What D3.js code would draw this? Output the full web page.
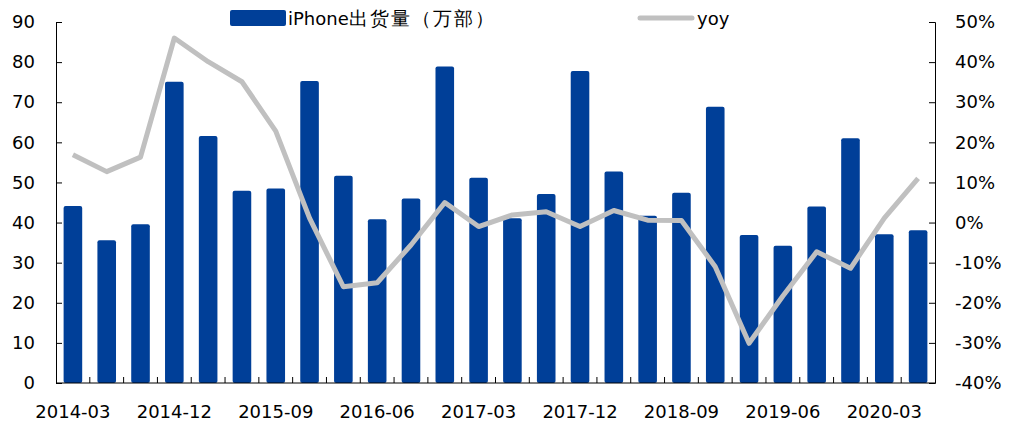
<!DOCTYPE html>
<html>
<head>
<meta charset="utf-8">
<script src="https://cdn.jsdelivr.net/npm/d3@7"></script>
<style>
  body { margin: 0; background: #fff; }
  text { font-family: "DejaVu Sans", Verdana, sans-serif; fill: #000; }
</style>
</head>
<body>
<div id="chart"></div>
<script>
var quarters = ["2014-03","2014-06","2014-09","2014-12","2015-03","2015-06","2015-09","2015-12",
  "2016-03","2016-06","2016-09","2016-12","2017-03","2017-06","2017-09","2017-12",
  "2018-03","2018-06","2018-09","2018-12","2019-03","2019-06","2019-09","2019-12",
  "2020-03","2020-06"];
var shipments = [44.1, 35.6, 39.6, 75.1, 61.6, 47.9, 48.5, 75.3, 51.7, 40.8, 46.0, 78.9, 51.2,
  41.1, 47.1, 77.8, 52.7, 41.7, 47.4, 68.9, 36.9, 34.2, 44.0, 61.0, 37.1, 38.1];
var yoy = [16.9, 12.7, 16.3, 46.0, 40.1, 35.1, 22.8, 1.1, -16.0, -15.0, -5.6, 5.0, -1.0,
  1.9, 2.7, -1.0, 3.0, 0.6, 0.5, -11.0, -30.1, -18.3, -7.3, -11.4, 1.1, 11.0];
var leftTicks = [0, 10, 20, 30, 40, 50, 60, 70, 80, 90];
var rightTicks = [-40, -30, -20, -10, 0, 10, 20, 30, 40, 50];
var xLabels = ["2014-03","2014-12","2015-09","2016-06","2017-03","2017-12","2018-09","2019-06","2020-03"];

var width = 1025, height = 423;
var margin = {top: 22, left: 56, right: 90, bottom: 40};
var plotW = width - margin.left - margin.right,
    plotH = height - margin.top - margin.bottom;

var svg = d3.select("#chart").append("svg")
  .attr("width", width)
  .attr("height", height);

var g = svg.append("g")
  .attr("transform", "translate(" + margin.left + "," + margin.top + ")");

var x = d3.scaleBand().domain(quarters).range([0, plotW]).paddingInner(0.45).paddingOuter(0.225);
var y = d3.scaleLinear().domain([0, 90]).range([plotH, 0]);
var y2 = d3.scaleLinear().domain([-40, 50]).range([plotH, 0]);

// bars
g.selectAll(".bar").data(quarters).enter().append("rect")
  .attr("class", "bar")
  .attr("x", function(d) { return x(d); })
  .attr("y", function(d, i) { return y(shipments[i]); })
  .attr("width", x.bandwidth())
  .attr("height", function(d, i) { return plotH - y(shipments[i]); })
  .attr("rx", 2)
  .attr("fill", "#003f98");

// yoy line
var line = d3.line()
  .x(function(d, i) { return x(quarters[i]) + x.bandwidth() / 2; })
  .y(function(d) { return y2(d); });

g.append("path")
  .datum(yoy)
  .attr("d", line)
  .attr("fill", "none")
  .attr("stroke", "#c0c0c0")
  .attr("stroke-width", 5)
  .attr("stroke-linejoin", "round");

// left axis
var leftAxis = g.append("g")
  .call(d3.axisLeft(y).tickValues(leftTicks).tickSize(-6).tickPadding(21));
leftAxis.selectAll("text").style("font-size", "18px");

// right axis
var rightAxis = g.append("g")
  .attr("transform", "translate(" + plotW + ",0)")
  .call(d3.axisRight(y2).tickValues(rightTicks).tickSize(-6).tickPadding(20)
    .tickFormat(function(d) { return d + "%"; }));
rightAxis.selectAll("text").style("font-size", "18px");

// bottom axis: ticks between categories
var step = x.step();
var bottom = g.append("g").attr("transform", "translate(0," + plotH + ")");
bottom.append("line")
  .attr("x1", 0).attr("x2", plotW)
  .attr("stroke", "#000");
bottom.selectAll(".tk").data(quarters.slice(1)).enter().append("line")
  .attr("x1", function(d) { return x(d) - (step - x.bandwidth()) / 2; })
  .attr("x2", function(d) { return x(d) - (step - x.bandwidth()) / 2; })
  .attr("y1", 0).attr("y2", -6)
  .attr("stroke", "#000");
bottom.selectAll(".lbl").data(xLabels).enter().append("text")
  .attr("x", function(d) { return x(d) + x.bandwidth() / 2; })
  .attr("y", 35)
  .attr("text-anchor", "middle")
  .style("font-size", "18px")
  .text(function(d) { return d; });

g.selectAll(".domain").attr("stroke", "#000");
g.selectAll(".tick line").attr("stroke", "#000");

// legend
var legend = svg.append("g");
legend.append("rect")
  .attr("x", 230).attr("y", 10).attr("width", 56).attr("height", 16).attr("rx", 2)
  .attr("fill", "#003f98");
var lt = legend.append("text")
  .attr("x", 288).attr("y", 25)
  .style("font-size", "18px");
lt.append("tspan").text("iPhone");
lt.append("tspan")
  .style("font-size", "19px")
  .style("letter-spacing", "2px")
  .text("出货量（万部）");
legend.append("line")
  .attr("x1", 640).attr("x2", 692).attr("y1", 18).attr("y2", 18)
  .attr("stroke", "#c0c0c0").attr("stroke-width", 5).attr("stroke-linecap", "round");
legend.append("text")
  .attr("x", 697).attr("y", 25)
  .style("font-size", "18px")
  .text("yoy");
</script>
</body>
</html>
